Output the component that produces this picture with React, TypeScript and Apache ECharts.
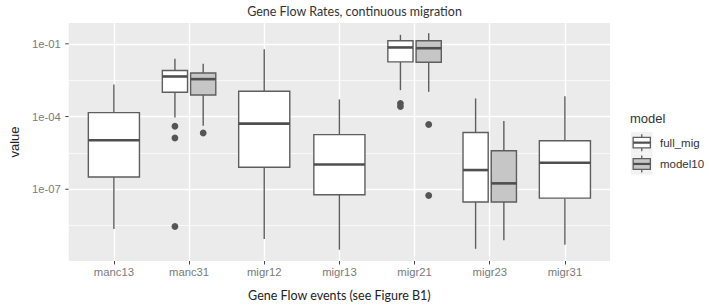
import React, { useEffect, useRef } from 'react';
import * as echarts from 'echarts';

// ---- data ----
const categories = ['manc13', 'manc31', 'migr12', 'migr13', 'migr21', 'migr23', 'migr31'];
const modelNames = ['full_mig', 'model10'];

// [category, min, Q1, median, Q3, max]
const fullMigStats: [string, number, number, number, number, number][] = [
  ['manc13', 2.3e-9, 3.2e-7, 1.05e-5, 1.45e-4, 2.1e-3],
  ['manc31', 9.1e-5, 1.0e-3, 4.5e-3, 7.9e-3, 2.45e-2],
  ['migr12', 8.9e-10, 8.1e-7, 5.1e-5, 1.1e-3, 6.0e-2],
  ['migr13', 3.2e-10, 5.9e-8, 1.05e-6, 1.8e-5, 5.1e-4],
  ['migr21', 1.23e-3, 1.8e-2, 7.1e-2, 1.35e-1, 2.35e-1],
  ['migr23', 3.5e-10, 3.0e-8, 6.2e-7, 2.2e-5, 5.6e-4],
  ['migr31', 5.1e-10, 4.3e-8, 1.25e-6, 1.0e-5, 6.9e-4],
];
const model10Stats: [string, number, number, number, number, number][] = [
  ['manc31', 4.2e-5, 7.8e-4, 3.5e-3, 6.3e-3, 1.5e-2],
  ['migr21', 1.05e-3, 1.75e-2, 6.6e-2, 1.35e-1, 2.75e-1],
  ['migr23', 7.8e-10, 3.0e-8, 1.75e-7, 3.9e-6, 6.5e-5],
];
const fullMigOutliers: [string, number][] = [
  ['manc31', 4.0e-5],
  ['manc31', 1.3e-5],
  ['manc31', 2.9e-9],
  ['migr21', 3.5e-4],
  ['migr21', 2.6e-4],
];
const model10Outliers: [string, number][] = [
  ['manc31', 2.1e-5],
  ['migr21', 4.7e-5],
  ['migr21', 5.5e-8],
];
const yMajorTicks = [1e-7, 1e-4, 1e-1];
const yMinorGrid = [10 ** -8.5, 10 ** -5.5, 10 ** -2.5];
const yRange = [10 ** -9.96, 10 ** -0.14];

// ---- styles ----
const BORDER = '#5E5E5E';
const MEDIAN = '#4F4F4F';
const FILLS = ['#FFFFFF', '#C6C6C6'];
const SINGLE_W = 0.68;
const PAIR_W = 0.335;
const PAIR_OFF = 0.188;
const X_MIN = -0.6;

const lg = (v: number) => Math.log10(v);
const pairedSet = new Set(
  fullMigStats.map((d) => d[0]).filter((c) => model10Stats.some((m) => m[0] === c))
);
const fmtExp = (v: number) => {
  const e = Math.round(v);
  const a = Math.abs(e);
  return '1e' + (e < 0 ? '-' : '+') + (a < 10 ? '0' + a : String(a));
};

function boxSeries(stats: typeof fullMigStats, modelIdx: number) {
  const data = stats.map((d) => [
    categories.indexOf(d[0]),
    lg(d[1]), lg(d[2]), lg(d[3]), lg(d[4]), lg(d[5]),
    pairedSet.has(d[0]) ? 1 : 0,
  ]);
  return {
    type: 'custom',
    name: modelNames[modelIdx],
    xAxisIndex: 0,
    yAxisIndex: 0,
    encode: { x: 0, y: [1, 2, 3, 4, 5] },
    data,
    z: 5,
    renderItem: (params: any, api: any) => {
      const x = api.value(0);
      const paired = api.value(6) === 1;
      const off = paired ? (modelIdx === 0 ? -PAIR_OFF : PAIR_OFF) : 0;
      const wUnits = paired ? PAIR_W : SINGLE_W;
      const cx = x + off;
      const pMin = api.coord([cx, api.value(1)]);
      const pQ1 = api.coord([cx, api.value(2)]);
      const pMed = api.coord([cx, api.value(3)]);
      const pQ3 = api.coord([cx, api.value(4)]);
      const pMax = api.coord([cx, api.value(5)]);
      const w = api.size([wUnits, 0])[0];
      const px = pMed[0];
      const lineStyle = { stroke: BORDER, lineWidth: 1.4 };
      return {
        type: 'group',
        children: [
          { type: 'line', shape: { x1: px, y1: pQ3[1], x2: px, y2: pMax[1] }, style: lineStyle },
          { type: 'line', shape: { x1: px, y1: pQ1[1], x2: px, y2: pMin[1] }, style: lineStyle },
          {
            type: 'rect',
            shape: { x: px - w / 2, y: pQ3[1], width: w, height: pQ1[1] - pQ3[1] },
            style: { fill: FILLS[modelIdx], stroke: BORDER, lineWidth: 1.4 },
          },
          {
            type: 'line',
            shape: { x1: px - w / 2, y1: pMed[1], x2: px + w / 2, y2: pMed[1] },
            style: { stroke: MEDIAN, lineWidth: 2.6 },
          },
        ],
      };
    },
  };
}

function outlierSeries(points: [string, number][], modelIdx: number) {
  const data = points.map((d) => [categories.indexOf(d[0]), lg(d[1]), pairedSet.has(d[0]) ? 1 : 0]);
  return {
    type: 'custom',
    name: modelNames[modelIdx] + ' outliers',
    xAxisIndex: 0,
    yAxisIndex: 0,
    encode: { x: 0, y: 1 },
    data,
    z: 6,
    renderItem: (params: any, api: any) => {
      const paired = api.value(2) === 1;
      const off = paired ? (modelIdx === 0 ? -PAIR_OFF : PAIR_OFF) : 0;
      const p = api.coord([api.value(0) + off, api.value(1)]);
      return { type: 'circle', shape: { cx: p[0], cy: p[1], r: 3.4 }, style: { fill: '#555555' } };
    },
  };
}

function minorGridSeries() {
  return {
    type: 'line',
    name: 'minor grid',
    xAxisIndex: 0,
    yAxisIndex: 0,
    data: [],
    silent: true,
    z: 1,
    markLine: {
      silent: true,
      symbol: ['none', 'none'],
      label: { show: false },
      lineStyle: { color: '#FFFFFF', width: 0.7, type: 'solid' },
      emphasis: { disabled: true },
      data: yMinorGrid.map((v) => ({ yAxis: lg(v) })),
    },
  };
}

function legendGraphic() {
  const children: any[] = [
    {
      type: 'text',
      x: 630,
      y: 118,
      style: { text: 'model', font: '13px "Liberation Sans"', fill: '#333333', verticalAlign: 'middle' },
    },
  ];
  const keyX = 631;
  const keyW = 21.5;
  const keyH = 21.3;
  modelNames.forEach((name, i) => {
    const ky = 132 + i * keyH;
    const cx = keyX + keyW / 2;
    children.push(
      { type: 'rect', shape: { x: keyX, y: ky, width: keyW, height: keyH }, style: { fill: '#F2F2F2' } },
      { type: 'line', shape: { x1: cx, y1: ky + keyH * 0.1, x2: cx, y2: ky + keyH * 0.9 }, style: { stroke: BORDER, lineWidth: 1.3 } },
      {
        type: 'rect',
        shape: { x: keyX + keyW * 0.1, y: ky + keyH * 0.25, width: keyW * 0.8, height: keyH * 0.5 },
        style: { fill: FILLS[i], stroke: BORDER, lineWidth: 1.3 },
      },
      { type: 'line', shape: { x1: keyX + keyW * 0.1, y1: ky + keyH / 2, x2: keyX + keyW * 0.9, y2: ky + keyH / 2 }, style: { stroke: MEDIAN, lineWidth: 2.2 } },
      {
        type: 'text',
        x: 660,
        y: ky + keyH / 2,
        style: { text: name, font: '11.5px "Liberation Sans"', fill: '#333333', verticalAlign: 'middle' },
      }
    );
  });
  return { type: 'group', children };
}

export default function App() {
  const ref = useRef<HTMLDivElement>(null);
  useEffect(() => {
    document.body.style.margin = '0';
    if (!ref.current) return;
    const chart = echarts.init(ref.current, null, { renderer: 'svg' });
    const tickFont = { fontFamily: 'Liberation Sans', fontSize: 11.3, color: '#7A7A7A' };
    chart.setOption({
      animation: false,
      backgroundColor: '#FFFFFF',
      title: {
        text: 'Gene Flow Rates, continuous migration',
        left: 'center',
        top: 0,
        textStyle: { fontFamily: 'Lato', fontSize: 12.5, fontWeight: 'normal', color: '#333333' },
      },
      grid: {
        left: 55,
        top: 23,
        width: 555,
        height: 240,
        show: true,
        backgroundColor: '#EBEBEB',
        borderWidth: 0,
      },
      xAxis: [
        {
          type: 'value',
          min: X_MIN,
          max: categories.length - 0.4,
          axisLine: { show: false },
          axisTick: { show: true, length: 3.5, lineStyle: { color: '#444444', width: 1 }, customValues: categories.map((_, i) => i) },
          axisLabel: {
            ...tickFont,
            margin: 5,
            customValues: categories.map((_, i) => i),
            formatter: (v: number) => categories[Math.round(v)] ?? '',
          },
          splitLine: { show: true, lineStyle: { color: '#FFFFFF', width: 1.4 } },
          name: 'Gene Flow events (see Figure B1)',
          nameLocation: 'middle',
          nameGap: 28,
          nameTextStyle: { fontFamily: 'Lato', fontSize: 12.5, color: '#222222' },
        },
      ],
      yAxis: [
        {
          type: 'value',
          min: lg(yRange[0]),
          max: lg(yRange[1]),
          axisLine: { show: false },
          axisTick: { show: false, customValues: yMajorTicks.map(lg) },
          axisLabel: { ...tickFont, margin: 8, customValues: yMajorTicks.map(lg), formatter: (v: number) => fmtExp(v) },
          splitLine: { show: true, lineStyle: { color: '#FFFFFF', width: 1.4 } },
          name: 'value',
          nameLocation: 'middle',
          nameGap: 38,
          nameRotate: 90,
          nameTextStyle: { fontFamily: 'Liberation Sans', fontSize: 13, color: '#222222' },
        },
      ],
      series: [
        minorGridSeries(),
        boxSeries(fullMigStats, 0),
        boxSeries(model10Stats, 1),
        outlierSeries(fullMigOutliers, 0),
        outlierSeries(model10Outliers, 1),
      ],
      graphic: [legendGraphic()],
    });

    // y-axis tick marks positioned through the axis scale
    const axisX = chart.convertToPixel({ xAxisIndex: 0 }, X_MIN) as number;
    const tickLines = yMajorTicks.map((v) => {
      const py = chart.convertToPixel({ yAxisIndex: 0 }, lg(v)) as number;
      return {
        type: 'line',
        shape: { x1: axisX - 3.5, y1: py, x2: axisX, y2: py },
        style: { stroke: '#444444', lineWidth: 1 },
      };
    });
    chart.setOption({ graphic: [legendGraphic(), { type: 'group', children: tickLines }] });

    return () => chart.dispose();
  }, []);
  return <div ref={ref} style={{ position: 'fixed', left: 0, top: 0, width: 709, height: 307 }} />;
}
